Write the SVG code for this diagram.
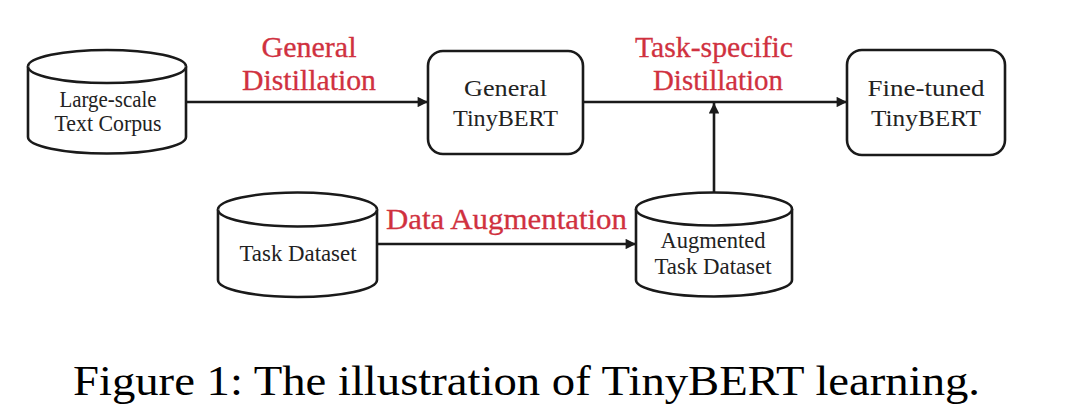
<svg xmlns="http://www.w3.org/2000/svg" width="1080" height="409" viewBox="0 0 1080 409">
<style>
.shape{fill:#fff;stroke:#1a1a1a;stroke-width:2.6;}
.node{font-family:"Liberation Serif","Times New Roman",serif;font-size:23px;fill:#222;text-anchor:middle;}
.lbl{font-family:"Liberation Serif","Times New Roman",serif;font-size:29px;fill:#d0313f;text-anchor:middle;stroke:#d0313f;stroke-width:0.3;}
.edge{stroke:#1a1a1a;stroke-width:2.6;fill:none;marker-end:url(#ah);}
.cap{font-family:"Liberation Serif","Times New Roman",serif;font-size:43px;fill:#000;}
</style>
<defs>
<marker id="ah" viewBox="0 0 10 10" refX="10" refY="5" markerWidth="4.6" markerHeight="4" markerUnits="strokeWidth" orient="auto">
<path d="M0,0 L10,5 L0,10 z" fill="#1a1a1a"/>
</marker>
</defs>
<rect width="1080" height="409" fill="#fff"/>

<g id="connectors">
<line class="edge" x1="186" y1="102" x2="428" y2="102"/>
<line class="edge" x1="583" y1="102" x2="847" y2="102"/>
<line class="edge" x1="377" y1="244" x2="636" y2="244"/>
<line class="edge" x1="714" y1="193" x2="714" y2="103"/>
</g>

<g id="label-general-distillation">
<text class="lbl" x="309" y="57" textLength="95" lengthAdjust="spacingAndGlyphs">General</text>
<text class="lbl" x="309" y="90" textLength="134" lengthAdjust="spacingAndGlyphs">Distillation</text>
</g>
<g id="label-task-specific">
<text class="lbl" x="714" y="57" textLength="158" lengthAdjust="spacingAndGlyphs">Task-specific</text>
<text class="lbl" x="718" y="90" textLength="130" lengthAdjust="spacingAndGlyphs">Distillation</text>
</g>
<g id="label-data-augmentation">
<text class="lbl" x="506.5" y="229" textLength="241" lengthAdjust="spacingAndGlyphs">Data Augmentation</text>
</g>

<g id="node-corpus">
<path class="shape" d="M28,66.5 A79,16.5 0 0 1 186,66.5 L186,137 A79,16.5 0 0 1 28,137 Z"/>
<path class="shape" d="M28,66.5 A79,16.5 0 0 0 186,66.5" fill="none"/>
<text class="node" x="108" y="107" textLength="97" lengthAdjust="spacingAndGlyphs">Large-scale</text>
<text class="node" x="108" y="131" textLength="107" lengthAdjust="spacingAndGlyphs">Text Corpus</text>
</g>

<g id="node-general-tinybert">
<rect class="shape" x="428" y="51" width="155" height="103" rx="15"/>
<text class="node" x="505.5" y="96" textLength="83" lengthAdjust="spacingAndGlyphs">General</text>
<text class="node" x="505.5" y="126" textLength="105" lengthAdjust="spacingAndGlyphs">TinyBERT</text>
</g>

<g id="node-finetuned-tinybert">
<rect class="shape" x="847" y="50" width="158" height="105" rx="15"/>
<text class="node" x="926" y="96" textLength="117" lengthAdjust="spacingAndGlyphs">Fine-tuned</text>
<text class="node" x="926" y="126" textLength="110" lengthAdjust="spacingAndGlyphs">TinyBERT</text>
</g>

<g id="node-task-dataset">
<path class="shape" d="M218,209.5 A79.5,17 0 0 1 377,209.5 L377,280 A79.5,17 0 0 1 218,280 Z"/>
<path class="shape" d="M218,209.5 A79.5,17 0 0 0 377,209.5" fill="none"/>
<text class="node" x="298" y="261" textLength="117" lengthAdjust="spacingAndGlyphs">Task Dataset</text>
</g>

<g id="node-augmented">
<path class="shape" d="M636,209 A78,16.5 0 0 1 792,209 L792,280 A78,16.5 0 0 1 636,280 Z"/>
<path class="shape" d="M636,209 A78,16.5 0 0 0 792,209" fill="none"/>
<text class="node" x="713" y="248" textLength="105" lengthAdjust="spacingAndGlyphs">Augmented</text>
<text class="node" x="713" y="274" textLength="117" lengthAdjust="spacingAndGlyphs">Task Dataset</text>
</g>

<text class="cap" x="73" y="395" textLength="907" lengthAdjust="spacingAndGlyphs">Figure 1: The illustration of TinyBERT learning.</text>
</svg>
